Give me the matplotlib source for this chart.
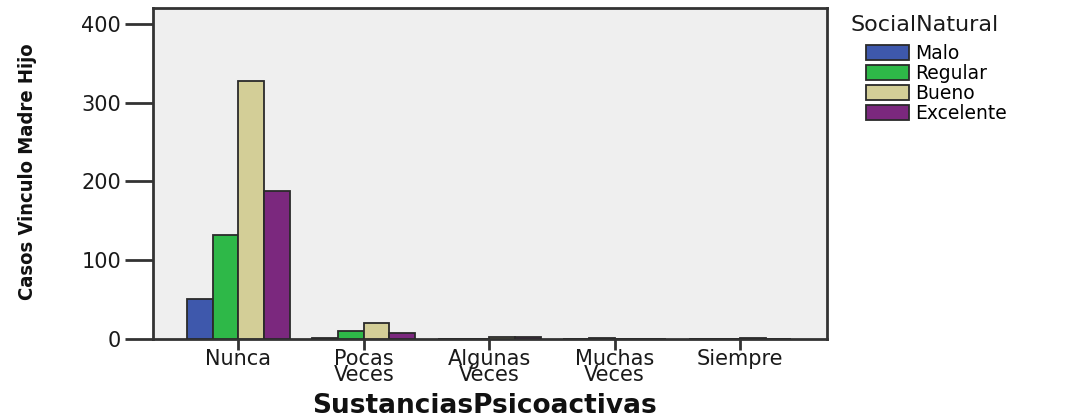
import numpy as np
import matplotlib
matplotlib.use("Agg")
import matplotlib.pyplot as plt

categories = ["Nunca", "Pocas\nVeces", "Algunas\nVeces", "Muchas\nVeces", "Siempre"]
series_names = ["Malo", "Regular", "Bueno", "Excelente"]
malo = [51, 1, 0, 0, 0]
regular = [132, 10, 0, 1, 0]
bueno = [327, 20, 3, 0, 1]
excelente = [188, 7, 3, 0, 0]
colors = ["#3e58ac", "#2eb848", "#d3ce97", "#7b287e"]

values = [malo, regular, bueno, excelente]

fig = plt.figure(figsize=(10.76, 4.19), dpi=100)
fig.patch.set_facecolor("white")
ax = fig.add_axes([0.1422, 0.191, 0.626, 0.790])
ax.set_facecolor("#efefef")

x = np.arange(len(categories))
width = 0.205
for i, (name, vals) in enumerate(zip(series_names, values)):
    ax.bar(x + (i - 1.5) * width, vals, width, color=colors[i], edgecolor="#2a2a2a",
           linewidth=1.3, label=name, zorder=3)

ax.set_xlim(-0.68, 4.69)
ax.set_ylim(0, 420)
ax.set_yticks([0, 100, 200, 300, 400])
ax.set_xticks(x)
ax.set_xticklabels(categories, fontsize=15, color="#1a1a1a", linespacing=0.8)
ax.tick_params(axis="y", length=20, width=2, color="#333333", labelsize=15,
               labelcolor="#1a1a1a", pad=3)
ax.tick_params(axis="x", length=8, width=2, color="#333333", pad=-1)
for sp in ax.spines.values():
    sp.set_color("#333333")
    sp.set_linewidth(2)

# axis titles
fig.text(28 / 1076, 1 - 172 / 419, "Casos Vinculo Madre Hijo", rotation=90,
         fontsize=14.5, fontweight="bold", fontstretch="condensed",
         family="DejaVu Sans", ha="center", va="center", color="#111111")
fig.text(485 / 1076, 1 - 406 / 419, "SustanciasPsicoactivas", fontsize=19,
         fontweight="bold", ha="center", va="center", color="#111111")

# legend
fig.text(850 / 1076, 1 - 25 / 419, "SocialNatural", fontsize=16, ha="left",
         va="center", color="#1a1a1a")
leg = ax.legend(loc="upper left", bbox_to_anchor=(866 / 1076, 1 - 44 / 419),
                bbox_transform=fig.transFigure, frameon=False, fontsize=13.5,
                handlelength=2.3, handleheight=0.9, labelspacing=0.05,
                handletextpad=0.3, borderaxespad=0, borderpad=0)
for h in leg.legend_handles:
    h.set_edgecolor("#2a2a2a")

fig.savefig("out.png", dpi=100)
